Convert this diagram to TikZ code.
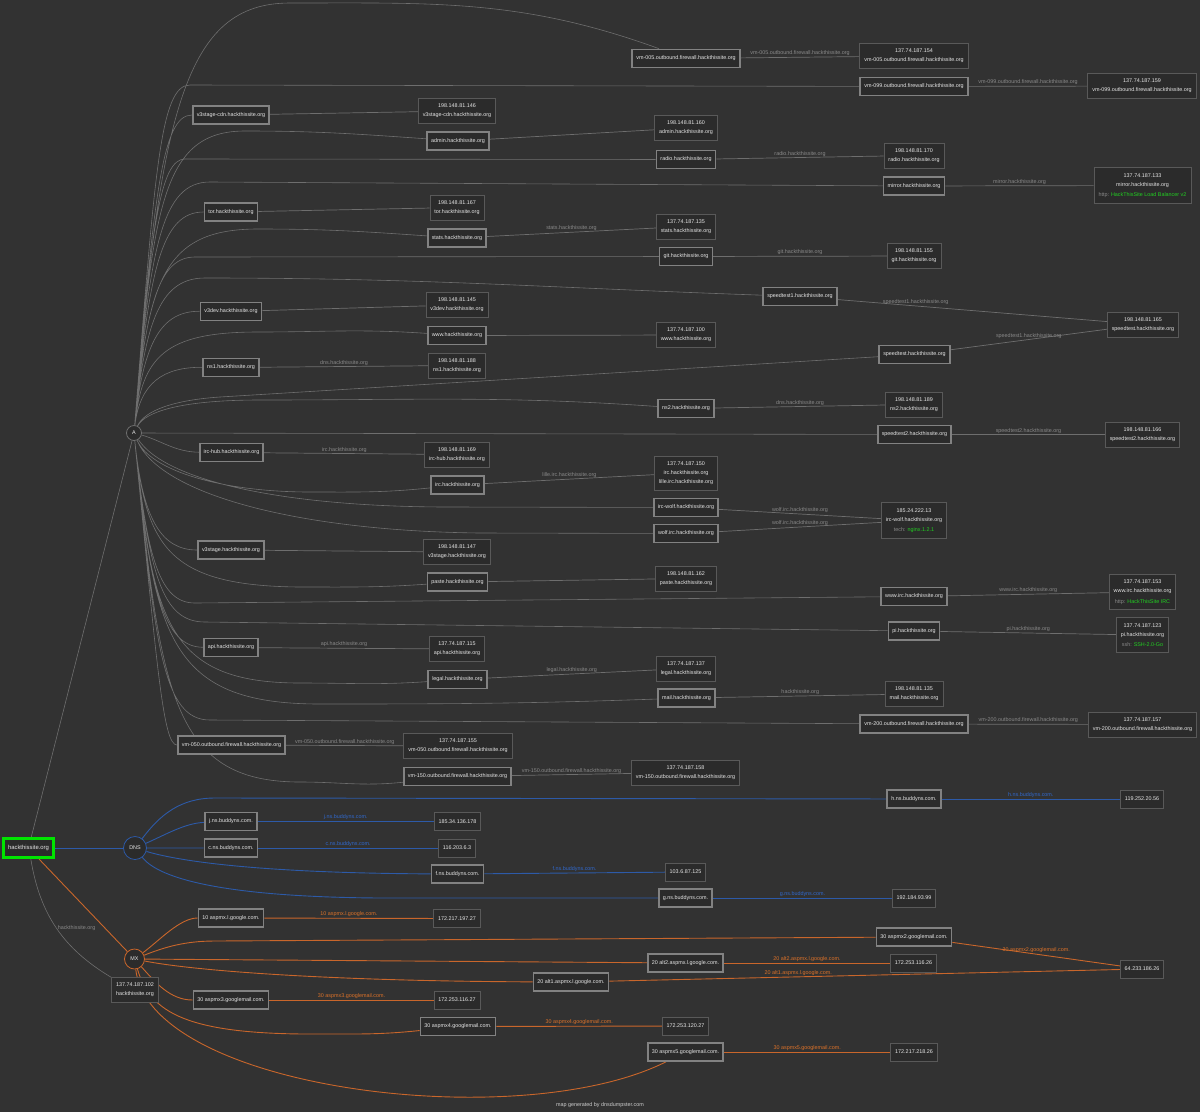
\documentclass[tikz,border=0pt]{standalone}
\usepackage{fontspec}
\setmainfont{Liberation Sans}
\usetikzlibrary{backgrounds}

\definecolor{bgdark}{HTML}{323232}
\definecolor{boxfill}{HTML}{2B2B2B}
\definecolor{hostedge}{HTML}{828282}
\definecolor{ipedge}{HTML}{595959}
\definecolor{nodetext}{HTML}{E6E6E6}
\definecolor{lblgray}{HTML}{8A8A8A}
\definecolor{linkgray}{HTML}{6E6E6E}
\definecolor{dnsblue}{HTML}{2D5AA8}
\definecolor{dnstext}{HTML}{3068CC}
\definecolor{mxorange}{HTML}{C9662B}
\definecolor{mxtext}{HTML}{DD7229}
\definecolor{rootgreen}{HTML}{00E400}
\definecolor{okgreen}{HTML}{22D022}
\definecolor{footgray}{HTML}{CFCFCF}

\begin{document}
\begin{tikzpicture}[x=1pt, y=-1pt,
		every node/.style={font=\fontsize{5.4}{9}\selectfont, text=nodetext},
		host/.style={rectangle, draw=hostedge, line width=1.7pt, fill=boxfill,
			inner xsep=4pt, minimum height=18pt},
		ipbox/.style={rectangle, draw=ipedge, line width=0.7pt, fill=boxfill,
			align=center, inner xsep=4.5pt, inner ysep=5.5pt, minimum height=18pt},
		hub/.style={circle, fill=boxfill, line width=0.8pt, inner sep=0pt},
		lbl/.style={above, inner sep=1pt, text=lblgray},
		dnslbl/.style={lbl, text=dnstext},
		mxlbl/.style={lbl, text=mxtext},
		alink/.style={draw=linkgray, line width=0.6pt},
		hostline/.style={draw=linkgray, line width=0.7pt},
		dnsline/.style={draw=dnsblue, line width=0.9pt},
		mxline/.style={draw=mxorange, line width=0.9pt}
	]
	\useasboundingbox (0,0) rectangle (1200,1112);

	% A records
	\node[hub, draw=linkgray, minimum size=15pt] (A) at (134,433) {A};
	\node[host] (vm005) at (686,58.5) {vm-005.outbound.firewall.hackthissite.org};
	\node[ipbox] (vm005ip) at (914,56) {137.74.187.154\\vm-005.outbound.firewall.hackthissite.org};
	\node[host] (vm099) at (914,86.5) {vm-099.outbound.firewall.hackthissite.org};
	\node[ipbox] (vm099ip) at (1142,86) {137.74.187.159\\vm-099.outbound.firewall.hackthissite.org};
	\node[host] (v3cdn) at (231,115) {v3stage-cdn.hackthissite.org};
	\node[ipbox] (v3cdnip) at (457,111) {198.148.81.146\\v3stage-cdn.hackthissite.org};
	\node[host] (admin) at (458,141) {admin.hackthissite.org};
	\node[ipbox] (adminip) at (686,128) {198.148.81.160\\admin.hackthissite.org};
	\node[host] (radio) at (686,159.5) {radio.hackthissite.org};
	\node[ipbox] (radioip) at (914,155.5) {198.148.81.170\\radio.hackthissite.org};
	\node[host] (mirror) at (914,186) {mirror.hackthissite.org};
	\node[ipbox] (mirrorip) at (1142.5,185.5) {137.74.187.133\\mirror.hackthissite.org\\[1.5pt]\textcolor{lblgray}{http:} \textcolor{okgreen}{HackThisSite Load Balancer v2}};
	\node[host] (tor) at (231,212) {tor.hackthissite.org};
	\node[ipbox] (torip) at (457,207.5) {198.148.81.167\\tor.hackthissite.org};
	\node[host] (stats) at (457,238) {stats.hackthissite.org};
	\node[ipbox] (statsip) at (686,226.5) {137.74.187.135\\stats.hackthissite.org};
	\node[host] (git) at (686,256.5) {git.hackthissite.org};
	\node[ipbox] (gitip) at (914,256) {198.148.81.155\\git.hackthissite.org};
	\node[host] (sp1) at (800,296.5) {speedtest1.hackthissite.org};
	\node[ipbox] (spip) at (1143,324.5) {198.148.81.165\\speedtest.hackthissite.org};
	\node[host] (v3dev) at (231,311.5) {v3dev.hackthissite.org};
	\node[ipbox] (v3devip) at (457,305) {198.148.81.145\\v3dev.hackthissite.org};
	\node[host] (www) at (457,335.5) {www.hackthissite.org};
	\node[ipbox] (wwwip) at (686,335) {137.74.187.100\\www.hackthissite.org};
	\node[host] (sp) at (914.5,354.5) {speedtest.hackthissite.org};
	\node[host] (ns1) at (231,367.5) {ns1.hackthissite.org};
	\node[ipbox] (ns1ip) at (457,365.5) {198.148.81.188\\ns1.hackthissite.org};
	\node[host] (ns2) at (686,408.5) {ns2.hackthissite.org};
	\node[ipbox] (ns2ip) at (914,404.5) {198.148.81.189\\ns2.hackthissite.org};
	\node[host] (sp2) at (914.5,434.5) {speedtest2.hackthissite.org};
	\node[ipbox] (sp2ip) at (1142.5,434.5) {198.148.81.166\\speedtest2.hackthissite.org};
	\node[host] (irchub) at (231.5,452.5) {irc-hub.hackthissite.org};
	\node[ipbox] (irchubip) at (457,454.5) {198.148.81.169\\irc-hub.hackthissite.org};
	\node[host] (irc) at (457.5,485) {irc.hackthissite.org};
	\node[ipbox] (ircip) at (686,473) {137.74.187.150\\irc.hackthissite.org\\lille.irc.hackthissite.org};
	\node[host] (ircwolf) at (686,507.5) {irc-wolf.hackthissite.org};
	\node[host] (wolf) at (686,533.5) {wolf.irc.hackthissite.org};
	\node[ipbox] (wolfip) at (914,520.5) {185.24.222.13\\irc-wolf.hackthissite.org\\[1.5pt]\textcolor{lblgray}{tech:} \textcolor{okgreen}{nginx.1.2.1}};
	\node[host] (v3stage) at (231,550) {v3stage.hackthissite.org};
	\node[ipbox] (v3stageip) at (457,552) {198.148.81.147\\v3stage.hackthissite.org};
	\node[host] (paste) at (457.5,582) {paste.hackthissite.org};
	\node[ipbox] (pasteip) at (686,578.5) {198.148.81.162\\paste.hackthissite.org};
	\node[host] (wwwirc) at (914,596.5) {www.irc.hackthissite.org};
	\node[ipbox] (wwwircip) at (1142.5,592) {137.74.187.153\\www.irc.hackthissite.org\\[1.5pt]\textcolor{lblgray}{http:} \textcolor{okgreen}{HackThisSite IRC}};
	\node[host] (pi) at (914,631) {pi.hackthissite.org};
	\node[ipbox] (piip) at (1142.5,635) {137.74.187.123\\pi.hackthissite.org\\[1.5pt]\textcolor{lblgray}{ssh:} \textcolor{okgreen}{SSH-2.0-Go}};
	\node[host] (api) at (231,647.5) {api.hackthissite.org};
	\node[ipbox] (apiip) at (457,649) {137.74.187.115\\api.hackthissite.org};
	\node[host] (legal) at (457.5,679.5) {legal.hackthissite.org};
	\node[ipbox] (legalip) at (686,668.5) {137.74.187.137\\legal.hackthissite.org};
	\node[host] (mail) at (686.5,698) {mail.hackthissite.org};
	\node[ipbox] (mailip) at (914,694) {198.148.81.135\\mail.hackthissite.org};
	\node[host] (vm200) at (914,724) {vm-200.outbound.firewall.hackthissite.org};
	\node[ipbox] (vm200ip) at (1142.5,724.5) {137.74.187.157\\vm-200.outbound.firewall.hackthissite.org};
	\node[host] (vm050) at (231.5,745) {vm-050.outbound.firewall.hackthissite.org};
	\node[ipbox] (vm050ip) at (458,746) {137.74.187.155\\vm-050.outbound.firewall.hackthissite.org};
	\node[host] (vm150) at (457.5,776.5) {vm-150.outbound.firewall.hackthissite.org};
	\node[ipbox] (vm150ip) at (685.5,772.5) {137.74.187.158\\vm-150.outbound.firewall.hackthissite.org};

	% root and NS records
	\node[host, draw=rootgreen, line width=3.2pt, inner xsep=4.4pt, minimum height=19pt] (root) at (28.5,848) {\fontsize{5.9}{7}\selectfont hackthissite.org};
	\node[hub, draw=dnsblue, minimum size=23pt] (DNS) at (135,848) {DNS};
	\node[host] (hns) at (914,799) {h.ns.buddyns.com.};
	\node[ipbox] (hnsip) at (1142,799) {119.252.20.56};
	\node[host] (jns) at (231,821.5) {j.ns.buddyns.com.};
	\node[ipbox] (jnsip) at (457.5,821.5) {185.34.136.178};
	\node[host] (cns) at (231,848) {c.ns.buddyns.com.};
	\node[ipbox] (cnsip) at (457,848) {116.203.6.3};
	\node[host] (fns) at (457.5,874) {f.ns.buddyns.com.};
	\node[ipbox] (fnsip) at (685.5,872) {103.6.87.125};
	\node[host] (gns) at (685.5,898) {g.ns.buddyns.com.};
	\node[ipbox] (gnsip) at (914,898) {192.184.93.99};

	% MX records
	\node[hub, draw=mxorange, minimum size=20pt] (MX) at (134.5,959) {MX};
	\node[host] (mx10) at (231,918) {10 aspmx.l.google.com.};
	\node[ipbox] (mx10ip) at (457,918.5) {172.217.197.27};
	\node[host] (mx2g) at (914,937) {30 aspmx2.googlemail.com.};
	\node[ipbox] (gmailip) at (1142,969) {64.233.186.26};
	\node[host] (alt2) at (685.5,963) {20 alt2.aspmx.l.google.com.};
	\node[ipbox] (alt2ip) at (913.5,963) {172.253.116.26};
	\node[host] (alt1) at (571,982) {20 alt1.aspmx.l.google.com.};
	\node[ipbox] (rootip) at (135,990) {137.74.187.102\\hackthissite.org};
	\node[host] (mx3) at (231,1000) {30 aspmx3.googlemail.com.};
	\node[ipbox] (mx3ip) at (457,1000) {172.253.116.27};
	\node[host] (mx4) at (458,1026.5) {30 aspmx4.googlemail.com.};
	\node[ipbox] (mx4ip) at (685.5,1026) {172.253.120.27};
	\node[host] (mx5) at (685.5,1052) {30 aspmx5.googlemail.com.};
	\node[ipbox] (mx5ip) at (914,1052) {172.217.218.26};

	\node[text=footgray] (credit) at (600,1105) {map generated by dnsdumpster.com};

	\begin{scope}[on background layer]
		\fill[bgdark] (0,0) rectangle (1200,1112);

		% root links
		\path[alink] (root) -- (A);
		\path[dnsline] (root) -- (DNS);
		\path[mxline] (root) -- (MX);
		\path[alink] (root) to[bend right=25] node[lbl, pos=0.5, right] {hackthissite.org} (rootip);

		% A fan
		\path[alink]
			(A) .. controls (160,110) and (185,3) .. (290,3) to[out=0, in=160] (vm005)
			(A) .. controls (155,172) and (160,85) .. (190,85) -- (vm099)
			(A) .. controls (154,195) and (162,115) .. (v3cdn)
			(A) .. controls (153,206) and (162,131) .. (245,131) to[out=0, in=176] (admin)
			(A) .. controls (151,228) and (160,159) .. (185,159) -- (radio)
			(A) .. controls (150,245) and (162,182) .. (210,182) -- (mirror)
			(A) .. controls (149,267) and (162,212) .. (tor)
			(A) .. controls (148,280) and (163,229) .. (258,229) to[out=0, in=176] (stats)
			(A) .. controls (146,301) and (160,257) .. (195,257) -- (git)
			(A) .. controls (145,317) and (162,278) .. (205,278) to[out=0, in=178] (sp1)
			(A) .. controls (143,341) and (162,311) .. (v3dev)
			(A) .. controls (142,357) and (164,332) .. (258,332) to[out=0, in=176] (www)
			(A) .. controls (140,383) and (163,367) .. (ns1)
			(A) .. controls (145,410) and (175,400) .. (220,397) -- (sp)
			(A) .. controls (145,412) and (180,400) .. (260,400) to[out=0, in=176] (ns2)
			(A) -- (sp2)
			(A) .. controls (160,440) and (175,452) .. (irchub)
			(A) .. controls (150,470) and (220,492) .. (310,492) to[out=0, in=186] (irc)
			(A) .. controls (165,480) and (280,507) .. (450,507) -- (ircwolf)
			(A) .. controls (160,495) and (300,531) .. (480,533) -- (wolf)
			(A) .. controls (143,521) and (162,550) .. (v3stage)
			(A) .. controls (146,545) and (166,586) .. (300,587) to[out=0, in=184] (paste)
			(A) .. controls (147,560) and (160,603) .. (195,603) -- (wwwirc)
			(A) .. controls (149,575) and (162,622) .. (205,622) -- (pi)
			(A) .. controls (150,594) and (164,647) .. (api)
			(A) .. controls (152,620) and (166,683) .. (300,683) to[out=0, in=184] (legal)
			(A) .. controls (154,636) and (168,704) .. (320,704) to[out=0, in=182] (mail)
			(A) .. controls (155,648) and (163,720) .. (210,720) -- (vm200)
			(A) .. controls (157,666) and (163,745) .. (vm050)
			(A) .. controls (160,690) and (170,782) .. (300,782) to[out=0, in=186] (vm150);

		\path[hostline]
			(vm005) edge node[lbl] {vm-005.outbound.firewall.hackthissite.org} (vm005ip)
			(vm099) edge node[lbl] {vm-099.outbound.firewall.hackthissite.org} (vm099ip)
			(v3cdn) edge (v3cdnip)
			(admin) edge (adminip)
			(radio) edge node[lbl] {radio.hackthissite.org} (radioip)
			(mirror) edge node[lbl] {mirror.hackthissite.org} (mirrorip)
			(tor) edge (torip)
			(stats) edge node[lbl] {stats.hackthissite.org} (statsip)
			(git) edge node[lbl] {git.hackthissite.org} (gitip)
			(sp1) edge node[lbl, pos=0.29] {speedtest1.hackthissite.org} (spip)
			(sp) edge node[lbl] {speedtest1.hackthissite.org} (spip)
			(v3dev) edge (v3devip)
			(www) edge (wwwip)
			(ns1) edge node[lbl] {dns.hackthissite.org} (ns1ip)
			(ns2) edge node[lbl] {dns.hackthissite.org} (ns2ip)
			(sp2) edge node[lbl] {speedtest2.hackthissite.org} (sp2ip)
			(irchub) edge node[lbl] {irc.hackthissite.org} (irchubip)
			(irc) edge node[lbl] {lille.irc.hackthissite.org} (ircip)
			(ircwolf) edge node[lbl] {wolf.irc.hackthissite.org} (wolfip)
			(wolf) edge node[lbl] {wolf.irc.hackthissite.org} (wolfip)
			(v3stage) edge (v3stageip)
			(paste) edge (pasteip)
			(wwwirc) edge node[lbl] {www.irc.hackthissite.org} (wwwircip)
			(pi) edge node[lbl] {pi.hackthissite.org} (piip)
			(api) edge node[lbl] {api.hackthissite.org} (apiip)
			(legal) edge node[lbl] {legal.hackthissite.org} (legalip)
			(mail) edge node[lbl] {hackthissite.org} (mailip)
			(vm200) edge node[lbl] {vm-200.outbound.firewall.hackthissite.org} (vm200ip)
			(vm050) edge node[lbl] {vm-050.outbound.firewall.hackthissite.org} (vm050ip)
			(vm150) edge node[lbl] {vm-150.outbound.firewall.hackthissite.org} (vm150ip);

		% NS fan
		\path[dnsline]
			(DNS) .. controls (160,815) and (180,798) .. (215,798) -- (hns)
			(DNS) .. controls (165,835) and (185,823) .. (jns)
			(DNS) -- (cns)
			(DNS) .. controls (175,860) and (250,873) .. (fns)
			(DNS) .. controls (160,880) and (230,897) .. (380,898) -- (gns);
		\path[dnsline]
			(hns) edge node[dnslbl] {h.ns.buddyns.com.} (hnsip)
			(jns) edge node[dnslbl] {j.ns.buddyns.com.} (jnsip)
			(cns) edge node[dnslbl] {c.ns.buddyns.com.} (cnsip)
			(fns) edge node[dnslbl] {f.ns.buddyns.com.} (fnsip)
			(gns) edge node[dnslbl] {g.ns.buddyns.com.} (gnsip);

		% MX fan
		\path[mxline]
			(MX) .. controls (160,940) and (180,918) .. (mx10)
			(MX) .. controls (165,947) and (185,941) .. (215,941) -- (mx2g)
			(MX) -- (alt2)
			(MX) .. controls (190,970) and (320,981) .. (alt1)
			(MX) .. controls (155,982) and (170,1000) .. (mx3)
			(MX) .. controls (150,1012) and (185,1035) .. (320,1034) to[out=0, in=186] (mx4)
			(MX) .. controls (150,1090) and (520,1135) .. (mx5);
		\path[mxline]
			(mx10) edge node[mxlbl] {10 aspmx.l.google.com.} (mx10ip)
			(mx2g) edge node[mxlbl] {30 aspmx2.googlemail.com.} (gmailip)
			(alt2) edge node[mxlbl] {20 alt2.aspmx.l.google.com.} (alt2ip)
			(alt1) edge node[mxlbl, pos=0.37] {20 alt1.aspmx.l.google.com.} (gmailip)
			(mx3) edge node[mxlbl] {30 aspmx3.googlemail.com.} (mx3ip)
			(mx4) edge node[mxlbl] {30 aspmx4.googlemail.com.} (mx4ip)
			(mx5) edge node[mxlbl] {30 aspmx5.googlemail.com.} (mx5ip);
	\end{scope}
\end{tikzpicture}
\end{document}
